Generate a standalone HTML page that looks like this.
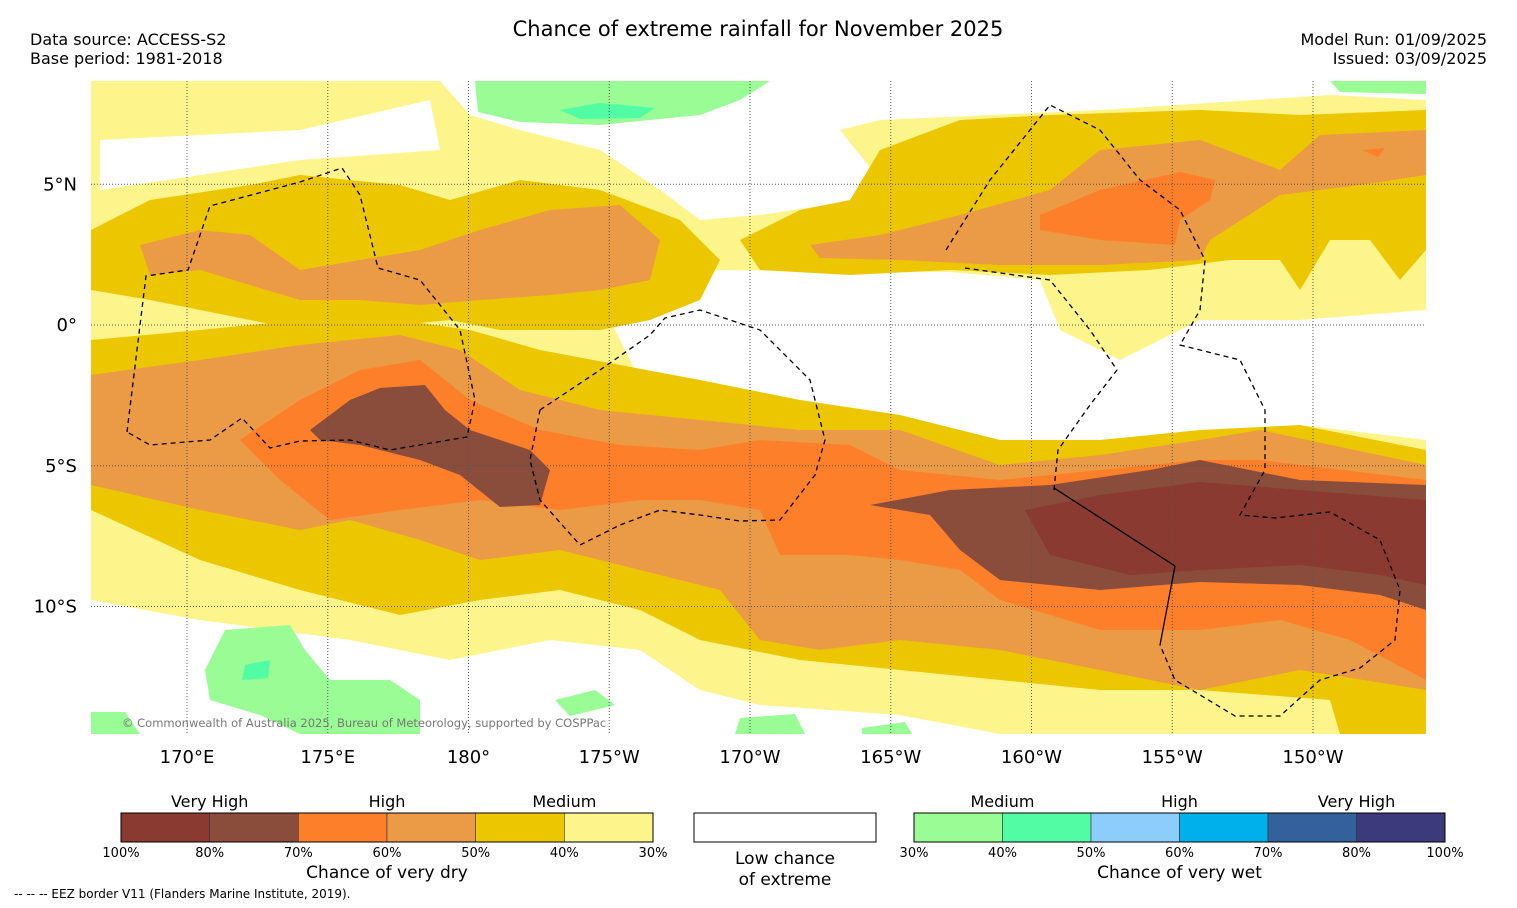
<!DOCTYPE html>
<html><head><meta charset="utf-8"><style>
body{margin:0;background:#fff;width:1517px;height:908px;overflow:hidden;font-family:"DejaVu Sans","Liberation Sans",sans-serif;}
svg{position:absolute;left:0;top:0}
</style></head><body>
<svg width="1517" height="908" xmlns="http://www.w3.org/2000/svg" font-family="DejaVu Sans, Liberation Sans, sans-serif">
<text x="758" y="36" font-size="21" text-anchor="middle">Chance of extreme rainfall for November 2025</text>
<text x="30" y="45" font-size="16">Data source: ACCESS-S2</text>
<text x="30" y="64" font-size="16">Base period: 1981-2018</text>
<text x="1487" y="45" font-size="16" text-anchor="end">Model Run: 01/09/2025</text>
<text x="1487" y="64" font-size="16" text-anchor="end">Issued: 03/09/2025</text>
<defs><clipPath id="mc"><rect x="91" y="81" width="1335" height="653"/></clipPath></defs>
<g clip-path="url(#mc)" stroke-linejoin="round">
<rect x="91" y="81" width="1335" height="653" fill="#fdf58c"/>
<path fill="#fff" d="M440,81 L1426,81 L1426,100 L1330,95 L1100,110 L880,120 L840,130 L880,180 L860,200 L760,215 L700,220 L660,190 L600,150 L560,140 L520,130 L470,115 Z"/>
<path fill="#fff" d="M600,300 L700,270 L950,272 L1040,280 L1060,330 L1120,360 L1200,320 L1300,320 L1426,310 L1426,440 L1300,425 L1200,440 L1100,450 L1000,460 L900,430 L800,420 L700,400 L640,380 L620,340 Z"/>
<path fill="#fff" d="M91,600 L200,620 L350,640 L450,660 L550,640 L640,650 L700,690 L760,705 L900,715 L1000,734 L91,734 Z"/>
<path fill="#fff" d="M100,140 L300,130 L430,100 L440,150 L300,160 L200,175 L100,190 Z"/>
<path fill="#9afc94" d="M475,81 L770,81 L740,100 L700,115 L600,125 L520,122 L478,112 Z"/>
<path fill="#52fca4" d="M560,110 L600,103 L655,108 L640,118 L580,119 Z"/>
<path fill="#9afc94" d="M1330,81 L1426,81 L1426,94 L1340,92 Z"/>
<path fill="#9afc94" d="M225,630 L290,625 L305,650 L330,680 L390,680 L420,700 L420,734 L300,734 L260,715 L210,700 L205,670 Z"/>
<path fill="#52fca4" d="M245,665 L270,660 L268,678 L242,680 Z"/>
<path fill="#9afc94" d="M91,712 L125,712 L140,734 L91,734 Z M555,700 L595,690 L615,705 L570,716 Z M740,718 L795,714 L805,734 L735,734 Z M862,728 L905,722 L912,734 L862,734 Z"/>
<path fill="#ecc700" d="M91,230 L150,200 L250,185 L300,175 L400,185 L450,200 L520,180 L600,190 L680,220 L720,260 L700,300 L650,320 L600,330 L500,330 L450,320 L350,330 L300,330 L250,320 L150,300 L91,290 Z"/>
<path fill="#ecc700" d="M740,240 L800,210 L850,200 L880,150 L960,120 L1050,115 L1200,110 L1300,115 L1426,110 L1426,250 L1400,280 L1370,240 L1330,240 L1300,290 L1280,260 L1230,260 L1150,270 L1050,275 L950,270 L850,275 L760,270 Z"/>
<path fill="#ecc700" d="M91,340 L200,330 L300,320 L400,320 L470,330 L540,350 L620,365 L700,380 L800,400 L900,415 L1000,440 L1100,440 L1200,430 L1300,425 L1426,450 L1426,734 L1340,734 L1330,700 L1200,690 L1100,690 L1000,680 L900,670 L800,660 L700,640 L640,610 L560,590 L480,600 L400,615 L300,590 L200,560 L91,510 Z"/>
<path fill="#eb9a45" d="M140,245 L200,230 L250,235 L300,270 L360,260 L420,250 L480,230 L550,210 L620,205 L660,240 L650,280 L600,290 L550,295 L480,300 L420,305 L360,300 L300,300 L250,285 L200,270 L150,275 Z"/>
<path fill="#eb9a45" d="M810,245 L880,235 L960,215 L1050,190 L1100,150 L1200,140 L1280,170 L1320,135 L1426,130 L1426,175 L1360,185 L1280,195 L1210,240 L1200,260 L1100,265 L1000,265 L900,260 L820,258 Z"/>
<path fill="#eb9a45" d="M91,375 L200,360 L300,345 L400,335 L460,350 L520,390 L600,410 L700,420 L800,430 L900,430 L1000,465 L1100,455 L1200,440 L1260,430 L1426,465 L1426,690 L1300,670 L1200,690 L1100,670 L1000,650 L900,640 L820,650 L760,640 L720,590 L640,570 L560,550 L480,560 L420,540 L350,520 L300,530 L200,510 L91,485 Z"/>
<path fill="#fe7f2a" d="M240,440 L300,400 L360,370 L420,360 L470,400 L540,430 L620,445 L700,450 L760,440 L850,445 L900,470 L1000,480 L1200,460 L1260,460 L1426,480 L1426,680 L1350,640 L1280,620 L1200,630 L1100,630 L1000,600 L960,570 L900,560 L850,555 L780,555 L760,510 L700,500 L640,500 L560,510 L480,500 L400,510 L330,520 L280,480 Z"/>
<path fill="#fe7f2a" d="M1040,215 L1100,190 L1180,172 L1215,180 L1210,200 L1180,220 L1175,245 L1100,240 L1040,230 Z M1362,150 L1385,148 L1378,157 Z"/>
<path fill="#8a4d3c" d="M310,430 L350,400 L380,388 L425,385 L445,410 L470,430 L530,450 L550,470 L540,505 L500,507 L460,475 L420,460 L360,445 L320,440 Z"/>
<path fill="#8a4d3c" d="M870,505 L950,490 L1050,485 L1150,470 L1200,460 L1250,470 L1300,480 L1426,485 L1426,610 L1380,595 L1300,585 L1200,582 L1100,590 L1000,580 L960,550 L930,515 Z"/>
<path fill="#8a3a31" d="M1025,510 L1100,495 L1200,482 L1300,490 L1426,500 L1426,585 L1380,575 L1300,565 L1200,570 L1130,575 L1050,555 Z"/>
<g stroke="#555" stroke-width="1" stroke-dasharray="1,2" id="grid"></g>
<g fill="none" stroke="#000" stroke-width="1.3" stroke-dasharray="5,4">
<path d="M127,432 L146,276 L188,270 L210,206 L300,182 L342,168 L360,195 L378,268 L420,280 L460,330 L475,400 L467,437 L390,450 L350,440 L300,441 L270,448 L242,418 L210,440 L150,445 Z"/>
<path d="M540,410 L600,370 L650,335 L665,318 L700,310 L760,330 L810,380 L825,440 L815,475 L780,520 L740,521 L700,515 L660,510 L620,525 L580,545 L540,500 L530,460 Z"/>
<path d="M946,250 L990,180 L1050,105 L1100,130 L1140,180 L1180,210 L1205,260 L1200,310 L1180,345 L1240,360 L1265,410 L1265,470 L1240,515 L1275,518 L1330,512 L1380,540 L1400,590 L1395,640 L1360,668 L1320,680 L1280,716 L1235,716 L1175,680 L1160,645"/>
<path d="M1054,490 L1058,450 L1090,405 L1117,370 L1090,330 L1050,280 L965,268"/>
</g>
<path fill="none" stroke="#000" stroke-width="1.3" d="M1054,488 L1175,566 L1160,645"/>
</g>
<text x="122" y="727" font-size="11.5" fill="#777">© Commonwealth of Australia 2025, Bureau of Meteorology, supported by COSPPac</text>
<g id="axes" font-size="18"></g>
<g id="legend" font-size="14"></g>
<text x="14" y="898" font-size="12">-- -- -- EEZ border V11 (Flanders Marine Institute, 2019).</text>
</svg>
<script>
const lonTicks=["170°E","175°E","180°","175°W","170°W","165°W","160°W","155°W","150°W"];
const lonVals=[170,175,180,185,190,195,200,205,210];
const latTicks=["5°N","0°","5°S","10°S"];
const latVals=[5,0,-5,-10];
const dryLabels=["100%","80%","70%","60%","50%","40%","30%"];
const dryColors=["#8a3a31","#8a4d3c","#fe7f2a","#eb9a45","#ecc700","#fdf58c"];
const wetLabels=["30%","40%","50%","60%","70%","80%","100%"];
const wetColors=["#9afc94","#52fca4","#8ccdfc","#00b0ea","#34619c","#3c3a7c"];
const NS="http://www.w3.org/2000/svg";
const xs=l=>187+(l-170)*28.15;
const ys=l=>325-l*28.15;
function mk(tag,attrs,parent,txt){const e=document.createElementNS(NS,tag);for(const k in attrs)e.setAttribute(k,attrs[k]);if(txt!=null)e.textContent=txt;parent.appendChild(e);return e;}
const grid=document.getElementById('grid'),axes=document.getElementById('axes'),leg=document.getElementById('legend');
lonVals.forEach((v,i)=>{
 const l=mk('line',{x1:xs(v),x2:xs(v),y1:81,y2:734},grid);
 
 
 const t=mk('text',{x:xs(v),y:763,'text-anchor':'middle'},axes,lonTicks[i]);
 
 
});
latVals.forEach((v,i)=>{
 const l=mk('line',{x1:91,x2:1426,y1:ys(v),y2:ys(v)},grid);
 
 
 const t=mk('text',{x:77,y:ys(v)+6,'text-anchor':'end'},axes,latTicks[i]);
 
 
});
function bar(x0,w,colors,labels,title,heads){
 const cw=w/colors.length;
 colors.forEach((c,i)=>{const r=mk('rect',{x:x0+i*cw,y:813,width:cw,height:29,fill:c,stroke:'#333','stroke-width':0.6},leg);
 
 });
 mk('rect',{x:x0,y:813,width:w,height:29,fill:'none',stroke:'#000','stroke-width':1},leg);
 labels.forEach((s,i)=>{const t=mk('text',{x:x0+i*cw,y:857,'text-anchor':'middle','font-size':13},leg,s);
 
 });
 heads.forEach((h,i)=>{const t=mk('text',{x:x0+cw*(2*i+1),y:807,'text-anchor':'middle','font-size':16},leg,h);
 
 });
 const t=mk('text',{x:x0+w/2,y:878,'text-anchor':'middle','font-size':17},leg,title);
 
 
}
bar(121,532,dryColors,dryLabels,"Chance of very dry",["Very High","High","Medium"]);
bar(914,531,wetColors,wetLabels,"Chance of very wet",["Medium","High","Very High"]);
const wb=mk('rect',{x:694,y:813,width:182,height:29,fill:'#fff',stroke:'#000'},leg);


const a=mk('text',{x:785,y:864,'text-anchor':'middle','font-size':17},leg,"Low chance");


const b=mk('text',{x:785,y:885,'text-anchor':'middle','font-size':17},leg,"of extreme");


</script>
</body></html>
